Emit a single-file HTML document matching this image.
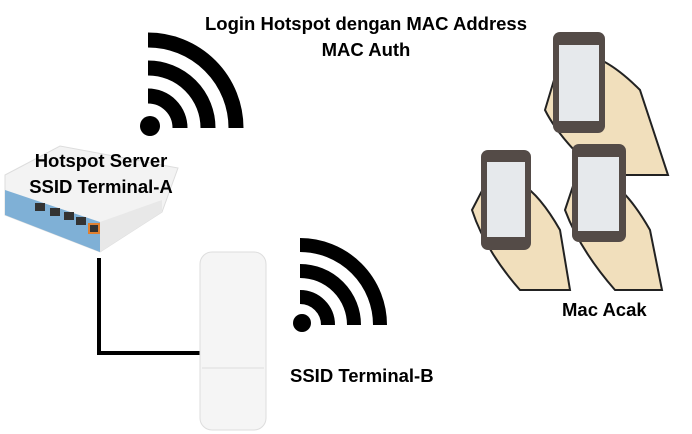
<!DOCTYPE html>
<html><head><style>
html,body{margin:0;padding:0;background:#fff;}
svg{display:block;}
text{font-family:"Liberation Sans",sans-serif;font-weight:bold;fill:#000;}
</style></head><body>
<svg width="692" height="434" viewBox="0 0 692 434" xmlns="http://www.w3.org/2000/svg">
<!-- wifi 1 -->
<g fill="none" stroke="#000" stroke-width="15">
<path d="M148 96 A32 32 0 0 1 180 128"/>
<path d="M148 68 A60 60 0 0 1 208 128"/>
<path d="M148 40 A88 88 0 0 1 236 128"/>
</g>
<circle cx="150" cy="126" r="10" fill="#000"/>
<!-- wifi 2 -->
<g fill="none" stroke="#000" stroke-width="14">
<path d="M300 297 A28 28 0 0 1 328 325"/>
<path d="M300 271 A54 54 0 0 1 354 325"/>
<path d="M300 245 A80 80 0 0 1 380 325"/>
</g>
<circle cx="302" cy="323" r="9" fill="#000"/>
<!-- router -->
<path d="M5 175 L60 146 L178 168 L162 212 L100 252 L5 215 Z" fill="#f3f3f3" stroke="#ddd"/>
<path d="M5 190 L100 222 L100 252 L5 215 Z" fill="#7fb0d6"/>
<path d="M100 222 L162 200 L162 212 L100 252 Z" fill="#e8e8e8"/>
<g fill="#333"><rect x="35" y="203" width="10" height="8"/><rect x="50" y="208" width="10" height="8"/><rect x="64" y="212" width="10" height="8"/><rect x="76" y="217" width="10" height="8"/><rect x="89" y="224" width="10" height="9" stroke="#e08030" stroke-width="2"/></g>
<!-- cable -->
<path d="M99 258 V353 H212" fill="none" stroke="#000" stroke-width="4"/>
<!-- AP -->
<rect x="200" y="252" width="66" height="178" rx="12" fill="#f5f5f5" stroke="#ddd"/>
<line x1="202" y1="368" x2="264" y2="368" stroke="#ddd"/>
<!-- phones -->
<g>
<path d="M560 60 Q590 40 640 90 L668 175 L600 175 Q560 140 545 110 Z" fill="#f1dfbc" stroke="#222" stroke-width="2"/>
<rect x="553" y="32" width="52" height="101" rx="7" fill="#544b47"/>
<rect x="559" y="45" width="40" height="76" fill="#e6e9ec"/>
<path d="M485 185 Q520 160 560 230 L570 290 L520 290 Q485 250 472 210 Z" fill="#f1dfbc" stroke="#222" stroke-width="2"/>
<rect x="481" y="150" width="50" height="100" rx="7" fill="#544b47"/>
<rect x="487" y="162" width="38" height="75" fill="#e6e9ec"/>
<path d="M575 180 Q610 160 650 230 L662 290 L615 290 Q580 250 565 210 Z" fill="#f1dfbc" stroke="#222" stroke-width="2"/>
<rect x="572" y="144" width="54" height="98" rx="7" fill="#544b47"/>
<rect x="578" y="157" width="41" height="74" fill="#e6e9ec"/>
</g>
<!-- labels -->
<text x="366" y="30" font-size="18.5" text-anchor="middle">Login Hotspot dengan MAC Address</text>
<text x="366" y="56" font-size="18.5" text-anchor="middle">MAC Auth</text>
<text x="101" y="167" font-size="18.5" text-anchor="middle">Hotspot Server</text>
<text x="101" y="193" font-size="18.5" text-anchor="middle">SSID Terminal-A</text>
<text x="290" y="382" font-size="18.5">SSID Terminal-B</text>
<text x="562" y="316" font-size="18.5">Mac Acak</text>
</svg>
</body></html>
